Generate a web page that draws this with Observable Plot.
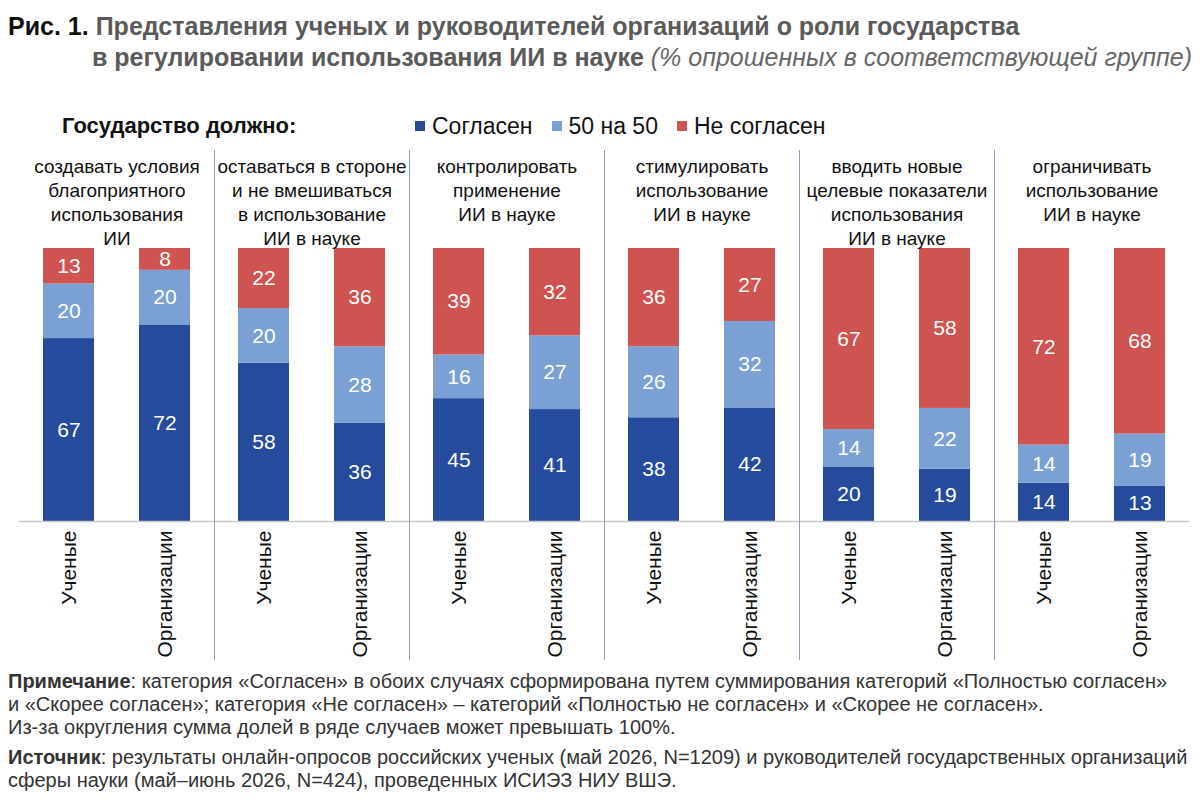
<!DOCTYPE html>
<html>
<head>
<meta charset="utf-8">
<script src="https://cdn.jsdelivr.net/npm/d3@7"></script>
<script src="https://cdn.jsdelivr.net/npm/@observablehq/plot@0.6"></script>
<style>
  body { margin: 0; background: #fff; font-family: "Liberation Sans", Arial, sans-serif; }
  #page { position: relative; width: 1200px; height: 800px; overflow: hidden; }
  .abs { position: absolute; white-space: nowrap; }
  .t1, .t2 { font-size: 25px; font-weight: bold; color: #5a5a5a; line-height: 29px; }
  .t1 b { color: #111; }
  .t2 i { font-weight: normal; color: #666; }
  .lg { font-size: 23px; color: #111; display: flex; align-items: center; line-height: 26px; }
  .sw { display: inline-block; width: 10px; height: 10px; margin-right: 7px; }
  .note { font-size: 20px; color: #333; line-height: 23px; }
  #chart { position: absolute; left: 0; top: 145px; }
</style>
</head>
<body>
<div id="page">
  <div class="abs t1" style="left:8px; top:12px;"><b>Рис. 1.</b> Представления ученых и руководителей организаций о роли государства</div>
  <div class="abs t2" style="left:92px; top:43px;">в регулировании использования ИИ в науке <i>(% опрошенных в соответствующей группе)</i></div>
  <div class="abs lg" style="left:62px; top:113px; font-size:22px; font-weight:bold;">Государство должно:</div>
  <div class="abs lg" id="legend" style="left:415px; top:113px;"></div>
  <div id="chart"></div>
  <div class="abs note" style="left:8px; top:670px;"><b>Примечание</b>: категория «Согласен» в обоих случаях сформирована путем суммирования категорий «Полностью согласен»<br>и «Скорее согласен»; категория «Не согласен» – категорий «Полностью не согласен» и «Скорее не согласен».<br>Из-за округления сумма долей в ряде случаев может превышать 100%.</div>
  <div class="abs note" style="left:8px; top:746px;"><b>Источник</b>: результаты онлайн-опросов российских ученых (май 2026, N=1209) и руководителей государственных организаций<br>сферы науки (май–июнь 2026, N=424), проведенных ИСИЭЗ НИУ ВШЭ.</div>
</div>
<script>
// ---- data ----
const statements = [
  "создавать условия\nблагоприятного\nиспользования\nИИ",
  "оставаться в стороне\nи не вмешиваться\nв использование\nИИ в науке",
  "контролировать\nприменение\nИИ в науке",
  "стимулировать\nиспользование\nИИ в науке",
  "вводить новые\nцелевые показатели\nиспользования\nИИ в науке",
  "ограничивать\nиспользование\nИИ в науке"
];
const groups = ["Ученые", "Организации"];
const responses = ["Согласен", "50 на 50", "Не согласен"];
const colors = ["#264b9c", "#7ba0d4", "#cf5350"];
// order: statement 1 (Ученые, Организации), statement 2 (...), ...
const agree    = [67, 72, 58, 36, 45, 41, 38, 42, 20, 19, 14, 13];
const neutral  = [20, 20, 20, 28, 16, 27, 26, 32, 14, 22, 14, 19];
const disagree = [13,  8, 22, 36, 39, 32, 36, 27, 67, 58, 72, 68];

const series = [agree, neutral, disagree];
const rows = [];
statements.forEach((s, i) => {
  groups.forEach((g, j) => {
    const k = i * 2 + j;
    responses.forEach((r, ri) => {
      rows.push({stmt: s, group: g, resp: r, value: series[ri][k]});
    });
  });
});

// legend
const legend = document.getElementById("legend");
responses.forEach((r, i) => {
  const item = document.createElement("span");
  item.style.display = "flex";
  item.style.alignItems = "center";
  item.style.marginRight = i < responses.length - 1 ? "19px" : "0";
  item.innerHTML = `<span class="sw" style="background:${colors[i]}"></span>${r}`;
  legend.appendChild(item);
});

const W = 1200, H = 520, ML = 19, MR = 11, MT = 103, MB = 144;
const facetW = (W - ML - MR) / statements.length;

const chart = Plot.plot({
  width: W,
  height: H,
  marginLeft: ML,
  marginRight: MR,
  marginTop: MT,
  marginBottom: MB,
  style: {fontFamily: "'Liberation Sans', Arial, sans-serif", background: "white", color: "#111"},
  fx: {domain: statements, padding: 0, axis: null},
  x: {domain: groups, paddingInner: 0.47, paddingOuter: 0.25},
  y: {domain: [0, 1], axis: null},
  color: {domain: responses, range: colors},
  marks: [
    Plot.barY(rows, Plot.stackY({fx: "stmt", x: "group", y: "value", fill: "resp", offset: "normalize"})),
    Plot.text(rows, Plot.stackY({fx: "stmt", x: "group", y: "value", z: "resp", text: "value", offset: "normalize", fill: "white", fontSize: 21})),
    Plot.ruleY([0], {stroke: "#c8c8c8", strokeWidth: 1.5}),
    Plot.ruleX(statements.slice(1), {fx: d => d, x: null, dx: -facetW / 2, stroke: "#8aa3bd", strokeWidth: 1, insetTop: -98, insetBottom: -139}),
    Plot.text(statements, {fx: d => d, text: d => d, frameAnchor: "top", lineAnchor: "top", dy: -93, fontSize: 19, lineHeight: 1.263, fill: "#111"}),
    Plot.axisX({tickRotate: -90, tickSize: 0, tickPadding: 9, fontSize: 21, label: null, fill: "#111"})
  ]
});
document.getElementById("chart").appendChild(chart);
</script>
</body>
</html>
